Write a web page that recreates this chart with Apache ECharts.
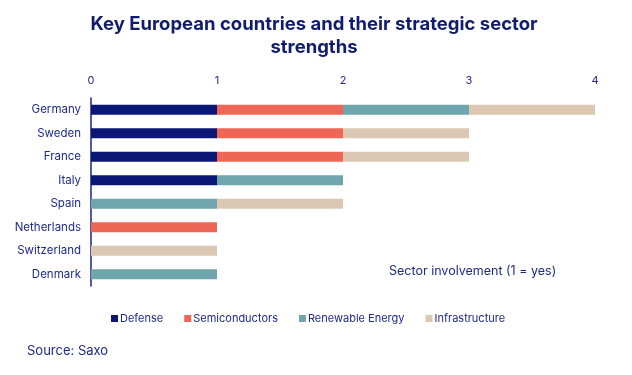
<!DOCTYPE html>
<html>
<head>
<meta charset="utf-8">
<script src="https://cdn.jsdelivr.net/npm/echarts@6/dist/echarts.min.js"></script>
<style>
  html, body { margin: 0; padding: 0; background: #fff; }
  #chart { width: 632px; height: 375px; }
</style>
</head>
<body>
<div id="chart"></div>
<script>
const countries = ['Germany', 'Sweden', 'France', 'Italy', 'Spain', 'Netherlands', 'Switzerland', 'Denmark']
const defense = [1, 1, 1, 1, 0, 0, 0, 0]
const semiconductors = [1, 1, 1, 0, 0, 1, 0, 0]
const renewable = [1, 0, 0, 1, 1, 0, 0, 1]
const infrastructure = [1, 1, 1, 0, 1, 0, 1, 0]
const xTicks = [0, 1, 2, 3, 4]

const navy = '#1a237e'
const colors = ['#0b1775', '#ee6656', '#6fa6ad', '#dcc7b2']
const font = 'Inter, "Noto Sans", sans-serif'

const chart = echarts.init(document.getElementById('chart'))

const mk = (name, data, i) => ({
  name,
  type: 'bar',
  stack: 'total',
  barWidth: 10,
  data,
  itemStyle: { color: colors[i] },
})

chart.setOption({
  animation: false,
  textStyle: { fontFamily: font },
  title: {
    text: 'Key European countries and their strategic sector\nstrengths',
    left: 309,
    textAlign: 'center',
    top: 8,
    textStyle: { color: '#101c6e', fontSize: 18.5, fontWeight: 'bold', lineHeight: 23, fontFamily: font },
  },
  legend: {
    bottom: 46,
    left: 106,
    itemWidth: 7,
    itemHeight: 7,
    itemGap: 21,
    icon: 'rect',
    textStyle: { color: '#1f2a8a', fontSize: 11, padding: [0, 0, 0, -3] },
    data: ['Defense', 'Semiconductors', 'Renewable Energy', 'Infrastructure'],
  },
  grid: { left: 91, right: 37, top: 98, bottom: 89 },
  xAxis: {
    type: 'value',
    position: 'top',
    min: 0,
    max: xTicks[xTicks.length - 1],
    interval: 1,
    axisLine: { show: false },
    axisTick: { show: false },
    splitLine: { show: false },
    axisLabel: { color: '#1f2a8a', fontSize: 11, margin: 12 },
  },
  yAxis: {
    type: 'category',
    inverse: true,
    data: countries,
    axisLine: { show: true, lineStyle: { color: navy, width: 1.5 } },
    axisTick: { show: false },
    axisLabel: { color: '#1f2a8a', fontSize: 11.5, margin: 10 },
  },
  graphic: [
    {
      type: 'text',
      left: 389,
      top: 265,
      style: { text: 'Sector involvement (1 = yes)', fill: '#1f2a8a', font: '12.5px ' + font },
    },
    {
      type: 'text',
      left: 27,
      top: 345,
      style: { text: 'Source: Saxo', fill: '#1f2a8a', font: '13px ' + font },
    },
  ],
  series: [
    mk('Defense', defense, 0),
    mk('Semiconductors', semiconductors, 1),
    mk('Renewable Energy', renewable, 2),
    mk('Infrastructure', infrastructure, 3),
  ],
})
</script>
</body>
</html>
